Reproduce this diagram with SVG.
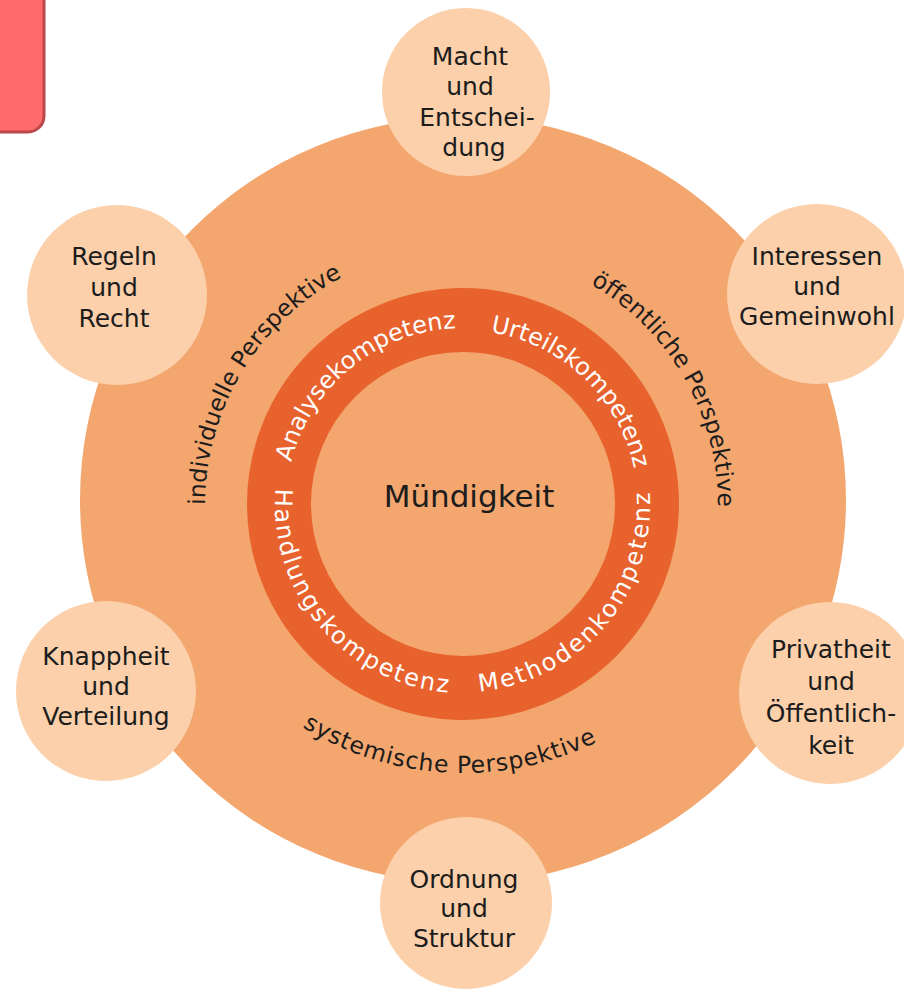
<svg xmlns="http://www.w3.org/2000/svg" width="904" height="997" viewBox="0 0 904 997">
<defs>
<style>
.sat{fill:#FBD0AB;}
.lbl{font-family:"DejaVu Sans",sans-serif;font-size:25px;fill:#1c1c1c;text-anchor:middle;}
.ring{font-family:"DejaVu Sans",sans-serif;font-size:24px;fill:#ffffff;}
.persp{font-family:"DejaVu Sans",sans-serif;font-size:23.5px;fill:#1c1c1c;}
</style>
<path id="pA" d="M291.3,462.2 A177,177 0 0 1 478.4,328.7"/>
<path id="pU" d="M490.4,332.2 A175,175 0 0 1 637.3,489.7"/>
<path id="pH" d="M275.7,488.6 A188,188 0 0 0 479.4,692.3"/>
<path id="pM" d="M479.3,691.3 A187,187 0 0 0 647.2,472.5"/>
<path id="pI" d="M205,505 A258,258 0 0 1 374.8,262.6"/>
<path id="pO" d="M590.5,284.2 A255,255 0 0 1 717,527.2"/>
<path id="pS" d="M302.4,726.9 A303,303 0 0 0 636.8,718.2"/>
</defs>
<rect width="904" height="997" fill="#ffffff"/>
<g id="tag">
<rect x="-20" y="-20" width="64" height="152" rx="16" fill="#FF6B6D" stroke="#B9474C" stroke-width="3"/>
</g>
<g id="base">
<circle cx="463" cy="500" r="383" fill="#F3A66E"/>
</g>
<g id="ring">
<circle cx="463" cy="504" r="184" fill="none" stroke="#E8622D" stroke-width="64"/>
<text class="ring"><textPath href="#pA">Analysekompetenz</textPath></text>
<text class="ring"><textPath href="#pU">Urteilskompetenz</textPath></text>
<text class="ring" letter-spacing="2.1"><textPath href="#pH">Handlungskompetenz</textPath></text>
<text class="ring" letter-spacing="2.3"><textPath href="#pM">Methodenkompetenz</textPath></text>
</g>
<g id="center">
<text x="469" y="507" font-family="DejaVu Sans, sans-serif" font-size="31" fill="#1c1c1c" text-anchor="middle">Mündigkeit</text>
</g>
<g id="perspectives">
<text class="persp"><textPath href="#pI">individuelle Perspektive</textPath></text>
<text class="persp"><textPath href="#pO">öffentliche Perspektive</textPath></text>
<text class="persp" font-size="25" letter-spacing="0.8"><textPath href="#pS">systemische Perspektive</textPath></text>
</g>
<g id="connectors"/>
<g id="node-macht">
<circle class="sat" cx="466" cy="92" r="84"/>
<text class="lbl" x="470" y="65">Macht</text>
<text class="lbl" x="470" y="95">und</text>
<text class="lbl" x="477" y="126">Entschei-</text>
<text class="lbl" x="474" y="156">dung</text>
</g>
<g id="node-regeln">
<circle class="sat" cx="117" cy="295" r="90"/>
<text class="lbl" x="114" y="265">Regeln</text>
<text class="lbl" x="114" y="296">und</text>
<text class="lbl" x="114" y="327">Recht</text>
</g>
<g id="node-interessen">
<circle class="sat" cx="817" cy="294" r="90"/>
<text class="lbl" x="817" y="265">Interessen</text>
<text class="lbl" x="817" y="295">und</text>
<text class="lbl" x="817" y="325">Gemeinwohl</text>
</g>
<g id="node-knappheit">
<circle class="sat" cx="106" cy="691" r="90"/>
<text class="lbl" x="106" y="665">Knappheit</text>
<text class="lbl" x="106" y="695">und</text>
<text class="lbl" x="106" y="725">Verteilung</text>
</g>
<g id="node-privatheit">
<circle class="sat" cx="830" cy="693" r="91"/>
<text class="lbl" x="831" y="658">Privatheit</text>
<text class="lbl" x="831" y="690">und</text>
<text class="lbl" x="831" y="722">Öffentlich-</text>
<text class="lbl" x="831" y="754">keit</text>
</g>
<g id="node-ordnung">
<circle class="sat" cx="466" cy="903" r="86"/>
<text class="lbl" x="464" y="888">Ordnung</text>
<text class="lbl" x="464" y="917">und</text>
<text class="lbl" x="464" y="947">Struktur</text>
</g>
</svg>
